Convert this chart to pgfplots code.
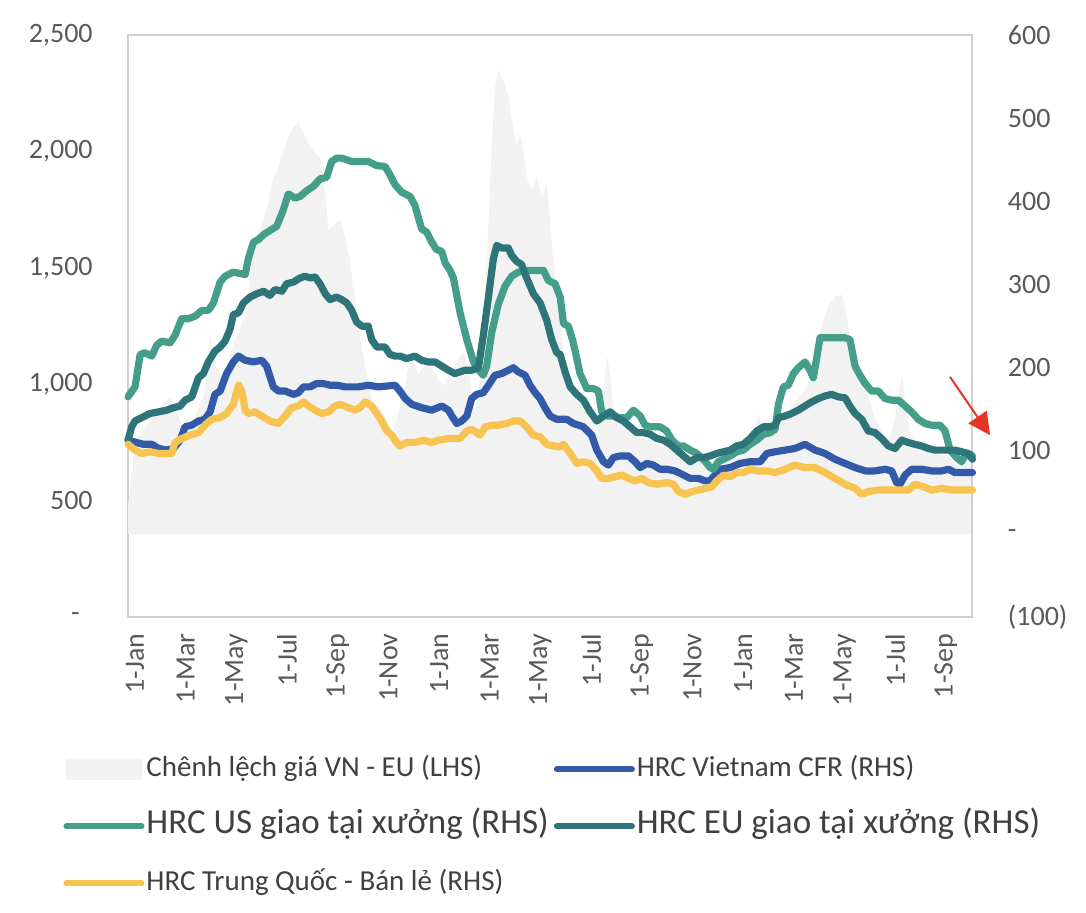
\documentclass[border=0pt]{standalone}
\usepackage{pgfplots}
\pgfplotsset{compat=1.18}
\usepackage{fontspec}
\setmainfont{Carlito}
\usetikzlibrary{arrows.meta}
\definecolor{usgreen}{RGB}{69,158,137}
\definecolor{euteal}{RGB}{46,117,122}
\definecolor{vnblue}{RGB}{50,90,168}
\definecolor{cnyellow}{RGB}{247,196,82}
\definecolor{areagrey}{RGB}{242,242,242}
\definecolor{boxgrey}{RGB}{208,208,208}
\definecolor{ticktext}{RGB}{89,89,89}
\definecolor{legtext}{RGB}{64,64,64}
\definecolor{arrowred}{RGB}{232,52,38}
\pgfplotsset{
  base/.style={scale only axis, width=422pt, height=291pt, xmin=0, xmax=32.73,
    axis line style={boxgrey, line width=1pt}, major tick length=0pt,
    tick label style={font=\fontsize{14}{16}\selectfont, text=ticktext, inner sep=0pt},
    clip=false},
  ser/.style={line width=3.6pt, line join=round, line cap=round},
}
\begin{document}
\begin{tikzpicture}
\begin{axis}[base, ymin=0, ymax=2500, ytick={0,500,...,2500},
  yticklabels={-\hspace*{6.5pt},500,{1,000},{1,500},{2,000},{2,500}},
  xtick={0,1.964,3.929,5.893,7.857,9.821,11.786,13.750,15.714,17.679,19.643,21.607,23.571,25.536,27.500,29.464,31.429},
  xticklabels={1-Jan,1-Mar,1-May,1-Jul,1-Sep,1-Nov,1-Jan,1-Mar,1-May,1-Jul,1-Sep,1-Nov,1-Jan,1-Mar,1-May,1-Jul,1-Sep},
  xticklabel style={rotate=90, anchor=east, xshift=-8pt, yshift=-3.5pt},
  yticklabel style={anchor=east, xshift=-17.5pt}]
% Chenh lech gia VN - EU (LHS)
\addplot[fill=areagrey, draw=none] coordinates {
(0,357) (0,480) (0.05,517) (0.21,697) (0.40,779) (0.66,812) (0.92,845) (1.18,894) (1.43,927) (1.63,943) (1.76,918)
(1.95,861) (2.15,812) (2.40,796) (2.66,877) (2.92,943) (3.11,1074) (3.18,1222) (3.37,1090) (3.57,1041)
(3.82,1074) (4.08,1172) (4.34,1238) (4.54,1303) (4.66,1402) (4.86,1598) (5.12,1664) (5.44,1779) (5.63,1894)
(5.76,1910) (5.96,1975) (6.15,2041) (6.41,2107) (6.60,2123) (6.80,2074) (6.99,2041) (7.25,1992) (7.44,1975)
(7.64,1828) (7.77,1664) (7.96,1680) (8.22,1705) (8.41,1631) (8.60,1533) (8.80,1369) (8.99,1205) (9.25,1041)
(9.44,943) (9.57,877) (9.70,910) (9.90,877) (10.09,828) (10.29,796) (10.48,877) (10.67,959) (10.87,1074)
(11.06,1107) (11.25,1041) (11.45,1074) (11.64,1107) (11.83,1058) (12.03,1025) (12.22,992) (12.42,1041)
(12.61,1074) (12.80,1107) (13.00,1140) (13.19,1074) (13.32,943) (13.45,877) (13.58,959) (13.77,1205)
(13.97,1697) (14.10,2025) (14.22,2271) (14.35,2352) (14.55,2303) (14.74,2238) (14.94,2090) (15.06,2025)
(15.19,2074) (15.32,2008) (15.45,1894) (15.65,1828) (15.84,1894) (16.03,1812) (16.23,1861) (16.42,1615)
(16.62,1400) (16.81,1205) (17.01,1041) (17.26,943) (17.52,910) (17.78,877) (18.04,861) (18.23,877)
(18.43,959) (18.56,1123) (18.69,1041) (18.81,894) (19.07,861) (19.5,790) (20.0,770) (20.5,740) (21.0,720)
(21.5,700) (22.0,690) (22.5,680) (23.0,700) (23.5,730) (24.0,760) (24.3,800) (24.45,877) (24.6,790)
(25.08,828) (25.47,861) (25.72,910) (25.98,943) (26.24,976) (26.50,1041) (26.76,1205) (26.95,1271)
(27.14,1336) (27.40,1377) (27.66,1385) (27.79,1336) (27.98,1205) (28.18,1107) (28.44,1041) (28.69,943)
(28.95,861) (29.21,796) (29.47,746) (29.66,828) (29.86,943) (29.99,1041) (30.12,927) (30.31,796)
(30.50,746) (30.76,730) (31.15,713) (31.54,697) (31.86,681) (32.18,664) (32.44,664) (32.73,664) (32.73,357)};
\end{axis}
\begin{axis}[base, ymin=-100, ymax=600, ytick={-100,0,...,600},
  yticklabels={(100),-,100,200,300,400,500,600},
  axis y line*=right, axis x line=none,
  yticklabel style={anchor=west, xshift=17.5pt},
  legend image code/.code={\draw[#1, line width=3pt] (0pt,0pt) -- (37.5pt,0pt);},
  legend columns=2, legend cell align=left,
  legend style={at={(0,0)}, anchor=north west, xshift=-35.5pt, yshift=-66.5pt,
    draw=none, fill=none, font=\fontsize{14.5}{17}\selectfont, text=legtext,
    nodes={inner sep=0pt, text height=11pt, text depth=3.5pt},
    row sep=14pt,
    /tikz/every odd column/.append style={column sep=1pt},
    /tikz/every even column/.append style={column sep=2.5pt}}]
\addlegendimage{legend image code/.code={\fill[areagrey] (0pt,-5pt) rectangle (37.5pt,5pt);}}
\addlegendentry{Chênh lệch giá VN - EU (LHS)}
% HRC Vietnam CFR
\addplot[ser, vnblue] coordinates {
(0,113) (0.34,110) (0.59,108) (0.92,108) (1.18,103) (1.50,101) (1.76,103) (2.02,113) (2.21,129) (2.47,131)
(2.73,136) (2.98,138) (3.18,147) (3.37,168) (3.57,172) (3.82,193) (4.08,207) (4.28,214) (4.54,209) (4.86,207)
(5.18,209) (5.37,202) (5.63,177) (5.83,172) (6.09,172) (6.41,168) (6.60,170) (6.80,177) (7.05,177) (7.31,181)
(7.57,181) (7.83,179) (8.09,179) (8.41,177) (8.93,177) (9.31,179) (9.70,177) (10.35,179) (10.54,172)
(10.74,163) (11.00,156) (11.38,152) (11.77,149) (12.16,154) (12.42,149) (12.55,142) (12.74,133) (12.93,136)
(13.13,142) (13.32,163) (13.51,168) (13.77,170) (13.97,179) (14.22,191) (14.48,193) (14.74,197) (14.94,200)
(15.13,195) (15.39,191) (15.58,179) (15.78,170) (15.97,163) (16.16,152) (16.36,142) (16.62,138) (17.01,138)
(17.26,133) (17.65,129) (17.97,119) (18.17,101) (18.43,87) (18.62,83) (18.81,92) (19.07,94) (19.40,94)
(19.65,87) (19.85,80) (20.11,85) (20.36,83) (20.62,78) (20.88,78) (21.20,76) (21.53,71) (21.79,67) (22.11,67)
(22.37,64) (22.56,64) (22.69,69) (22.95,78) (23.34,80) (23.72,85) (24.11,87) (24.50,87) (24.76,97) (25.08,99)
(25.47,101) (25.85,103) (26.24,108) (26.63,101) (27.01,97) (27.40,90) (27.79,85) (28.18,80) (28.57,76)
(28.95,76) (29.34,78) (29.60,76) (29.79,62) (29.92,60) (30.12,71) (30.37,78) (30.76,78) (31.15,76) (31.54,76)
(31.80,78) (32.05,74) (32.44,74) (32.73,74)};
\addlegendentry{HRC Vietnam CFR (RHS)}
% HRC US
\addplot[ser, usgreen] coordinates {
(0,165) (0.27,177) (0.47,216) (0.66,218) (0.92,214) (1.11,227) (1.30,232) (1.63,230) (1.82,239) (2.08,259)
(2.34,259) (2.60,262) (2.86,269) (3.11,269) (3.31,278) (3.57,303) (3.76,310) (4.08,315) (4.54,312) (4.66,331)
(4.86,351) (5.05,354) (5.25,360) (5.50,365) (5.76,370) (6.02,390) (6.21,409) (6.47,404) (6.67,406) (6.93,413)
(7.18,418) (7.44,427) (7.70,429) (7.89,448) (8.09,452) (8.28,452) (8.67,448) (9.31,448) (9.64,443) (9.96,442)
(10.15,432) (10.35,420) (10.61,411) (10.93,406) (11.12,395) (11.38,367) (11.58,363) (11.77,351) (11.96,342)
(12.16,340) (12.29,326) (12.48,317) (12.61,308) (12.87,266) (13.13,234) (13.39,207) (13.51,200) (13.77,191)
(13.90,202) (14.10,243) (14.35,276) (14.61,298) (14.87,310) (15.13,315) (15.52,317) (16.10,317) (16.29,305)
(16.55,301) (16.75,285) (16.88,253) (17.07,250) (17.26,230) (17.52,193) (17.78,175) (18.04,175) (18.23,172)
(18.36,147) (18.56,142) (18.81,142) (19.07,140) (19.33,140) (19.59,149) (19.85,142) (20.04,131) (20.24,129)
(20.62,129) (20.88,124) (21.08,113) (21.33,106) (21.53,106) (21.79,101) (22.04,97) (22.30,90) (22.56,80)
(22.69,78) (22.88,87) (23.08,90) (23.34,94) (23.59,99) (23.85,101) (24.11,108) (24.37,113) (24.63,120)
(24.89,122) (25.08,126) (25.21,156) (25.40,177) (25.59,179) (25.79,193) (25.98,200) (26.24,207) (26.43,197)
(26.56,188) (26.69,211) (26.82,236) (27.27,236) (27.79,236) (27.98,234) (28.18,202) (28.37,191) (28.57,181)
(28.82,172) (29.08,172) (29.34,163) (29.60,161) (29.86,161) (30.12,154) (30.37,147) (30.63,138) (30.89,133)
(31.15,131) (31.47,131) (31.67,124) (31.86,101) (32.12,92) (32.31,87) (32.44,94) (32.64,96) (32.73,94)};
\addlegendentry{\fontsize{17.5}{20}\selectfont HRC US giao tại xưởng (RHS)}
% HRC EU
\addplot[ser, euteal] coordinates {
(0,113) (0.14,129) (0.27,136) (0.53,140) (0.85,145) (1.18,147) (1.50,149) (1.76,152) (2.02,154) (2.21,161)
(2.47,165) (2.73,188) (2.92,193) (3.11,207) (3.37,220) (3.57,225) (3.76,232) (3.95,246) (4.08,264) (4.28,266)
(4.47,278) (4.73,285) (4.99,289) (5.25,292) (5.50,287) (5.70,294) (5.96,292) (6.15,301) (6.41,303) (6.67,308)
(6.86,310) (7.05,308) (7.25,309) (7.44,301) (7.64,289) (7.83,282) (8.09,285) (8.28,282) (8.48,278) (8.67,269)
(8.86,255) (9.06,250) (9.31,250) (9.44,234) (9.64,225) (9.96,225) (10.15,216) (10.35,214) (10.54,214)
(10.80,211) (11.12,214) (11.38,209) (11.64,207) (11.90,207) (12.16,202) (12.42,197) (12.67,193) (12.87,195)
(13.06,197) (13.32,197) (13.58,200) (13.77,239) (13.97,285) (14.16,331) (14.29,347) (14.48,344) (14.74,344)
(14.87,335) (15.06,328) (15.26,324) (15.45,308) (15.71,289) (15.97,278) (16.23,257) (16.42,234) (16.62,218)
(16.75,216) (16.94,195) (17.14,177) (17.39,168) (17.65,161) (17.91,147) (18.17,136) (18.43,142) (18.69,147)
(18.94,140) (19.20,136) (19.46,129) (19.72,122) (19.98,122) (20.24,120) (20.49,115) (20.75,113) (21.01,108)
(21.27,101) (21.53,94) (21.79,87) (22.04,92) (22.30,92) (22.56,94) (22.82,97) (23.08,99) (23.34,101)
(23.59,106) (23.85,108) (24.11,115) (24.37,124) (24.63,129) (24.89,129) (25.08,131) (25.21,140) (25.47,142)
(25.72,145) (25.98,149) (26.24,154) (26.50,159) (26.76,163) (27.01,166) (27.27,168) (27.53,165) (27.79,164)
(27.98,154) (28.18,145) (28.44,138) (28.69,124) (28.95,122) (29.21,115) (29.47,106) (29.73,103) (29.99,113)
(30.25,110) (30.50,108) (30.76,106) (31.02,103) (31.28,101) (31.54,101) (31.80,101) (32.05,101) (32.31,99)
(32.57,97) (32.73,90)};
\addlegendentry{\fontsize{17.5}{20}\selectfont HRC EU giao tại xưởng (RHS)}
% HRC Trung Quoc
\addplot[ser, cnyellow] coordinates {
(0,108) (0.27,101) (0.53,97) (0.85,99) (1.18,97) (1.50,97) (1.69,97) (1.82,110) (2.08,115) (2.40,119)
(2.73,122) (2.98,131) (3.24,138) (3.57,140) (3.82,145) (4.08,156) (4.28,179) (4.41,172) (4.54,149) (4.66,145)
(4.92,147) (5.18,142) (5.50,136) (5.83,133) (6.09,142) (6.34,152) (6.60,154) (6.80,159) (6.99,154) (7.25,149)
(7.51,145) (7.77,147) (8.02,154) (8.22,156) (8.54,152) (8.80,149) (8.99,152) (9.19,159) (9.44,154) (9.64,145)
(9.83,136) (10.03,124) (10.22,119) (10.41,110) (10.54,106) (10.80,110) (11.12,110) (11.45,113) (11.77,110)
(12.03,113) (12.42,115) (12.87,115) (13.13,124) (13.32,126) (13.51,122) (13.64,119) (13.84,129) (14.10,131)
(14.35,131) (14.68,133) (14.94,136) (15.19,136) (15.45,129) (15.71,119) (15.97,117) (16.23,108) (16.49,106)
(16.75,105) (16.88,108) (17.14,97) (17.39,85) (17.65,87) (17.91,85) (18.17,76) (18.36,67) (18.62,67)
(18.88,69) (19.14,71) (19.40,67) (19.65,64) (19.91,67) (20.17,62) (20.49,60) (20.88,62) (21.14,60) (21.33,51)
(21.59,48) (21.85,51) (22.11,53) (22.37,55) (22.63,57) (22.82,64) (23.08,71) (23.34,69) (23.59,74) (23.85,74)
(24.11,78) (24.37,76) (24.76,76) (25.08,74) (25.47,78) (25.85,83) (26.24,80) (26.63,80) (27.01,74) (27.40,67)
(27.79,60) (28.18,55) (28.44,48) (28.69,51) (29.08,53) (29.47,53) (29.86,53) (30.25,53) (30.50,60) (30.82,57)
(31.15,53) (31.54,55) (31.93,53) (32.31,53) (32.73,53)};
\addlegendentry{HRC Trung Quốc - Bán lẻ (RHS)}
\draw[arrowred, line width=1pt, -{Triangle[length=11pt, width=11pt]}] (axis cs:31.86,189) -- (axis cs:33.41,119);
\end{axis}
\pgfresetboundingbox
\path[use as bounding box] (-64pt,-147.5pt) rectangle (478.75pt,308.5pt);
\end{tikzpicture}
\end{document}
